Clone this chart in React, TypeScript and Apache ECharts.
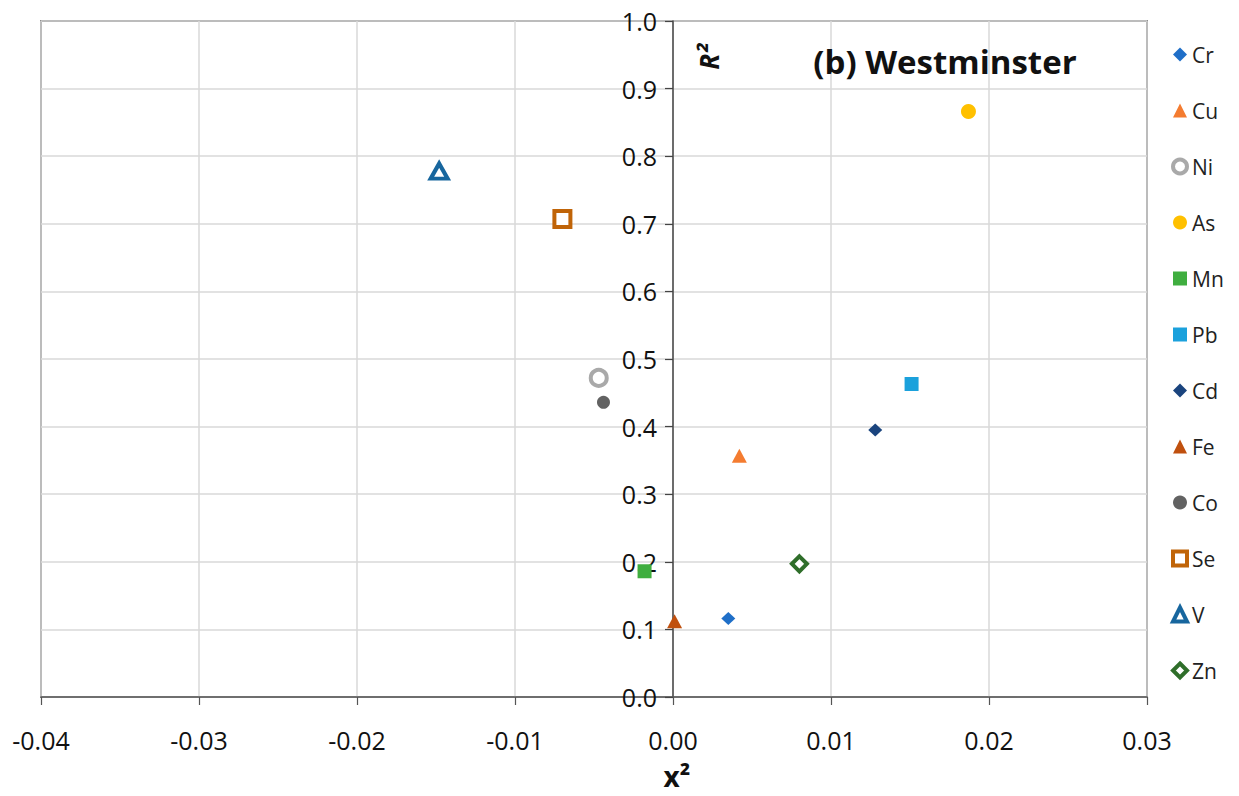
import React, { useEffect, useRef } from "react";
import * as echarts from "echarts";

const elements = ["Cr", "Cu", "Ni", "As", "Mn", "Pb", "Cd", "Fe", "Co", "Se", "V", "Zn"];
const xValues = [0.0035, 0.0042, -0.0047, 0.0187, -0.0018, 0.0151, 0.0128, 0.0001, -0.0044, -0.007, -0.0148, 0.008];
const yValues = [0.116, 0.357, 0.472, 0.866, 0.186, 0.463, 0.395, 0.112, 0.436, 0.707, 0.778, 0.197];
const colors = ["#1f6fc8", "#f47c30", "#a9a9a9", "#ffc000", "#3fae3f", "#1ba1dc", "#1a447e", "#c0500e", "#626262", "#c06408", "#17669e", "#2f6e2a"];
const symbols = ["diamond", "triangle", "circle", "circle", "rect", "rect", "diamond", "triangle", "circle", "rect", "triangle", "diamond"];
const hollow = [false, false, true, false, false, false, false, false, false, true, true, true];
const sizes: any[] = [[14, 13], [15, 14], 16, 15, 14, 14, [14, 13], [15, 14], 13, 16, [17, 15], [15, 15]];
const xTicks = { min: -0.04, max: 0.03, interval: 0.01 };
const yTicks = { min: 0, max: 1, interval: 0.1 };

const FONT = "'Open Sans', sans-serif";
const GRID = { left: 41, top: 21, right: 92, bottom: 99 };
const WIDTH = 1239;

export default function App() {
  const ref = useRef<HTMLDivElement>(null);
  useEffect(() => {
    if (!ref.current) return;
    const chart = echarts.init(ref.current, null, { renderer: "svg" });
    const styleOf = (i: number) =>
      hollow[i]
        ? { color: "#ffffff", borderColor: colors[i], borderWidth: 4, opacity: 1 }
        : { color: colors[i], borderWidth: 0, opacity: 1 };
    const series = elements.map((name, i) => ({
      name,
      type: "scatter",
      data: [[xValues[i], yValues[i]]],
      symbol: symbols[i],
      symbolSize: sizes[i],
      itemStyle: styleOf(i),
      z: 5,
    }));
    const gridWidth = WIDTH - GRID.left - GRID.right;
    const zeroOffset = (gridWidth * (0 - xTicks.min)) / (xTicks.max - xTicks.min);
    chart.setOption({
      animation: false,
      backgroundColor: "#ffffff",
      textStyle: { fontFamily: FONT },
      grid: {
        ...GRID,
        show: true,
        borderColor: "#3a3a3a",
        borderWidth: 1.5,
        containLabel: false,
      },
      legend: {
        orient: "vertical",
        left: 1166,
        top: 38,
        itemWidth: 14,
        itemHeight: 14,
        itemGap: 33,
        textStyle: { fontSize: 21, color: "#222", fontFamily: FONT, lineHeight: 23 },
        data: elements.map((name, i) => ({
          name,
          icon: symbols[i],
          itemStyle: hollow[i]
            ? { color: "#ffffff", borderColor: colors[i], borderWidth: 4 }
            : { color: colors[i], borderWidth: 0 },
        })),
      },
      xAxis: {
        type: "value",
        min: xTicks.min,
        max: xTicks.max,
        interval: xTicks.interval,
        axisLine: { onZero: false, lineStyle: { color: "#555", width: 1.5 } },
        axisTick: { show: true, length: 8, lineStyle: { color: "#555", width: 1.2 } },
        axisLabel: {
          fontSize: 25,
          color: "#111",
          margin: 30,
          fontFamily: FONT,
          formatter: (v: number) => (Math.abs(v) < 1e-9 ? "0.00" : v.toFixed(2)),
        },
        splitLine: { show: true, lineStyle: { color: "#d9d9d9", width: 1.5 } },
      },
      yAxis: {
        type: "value",
        position: "left",
        offset: -zeroOffset,
        min: yTicks.min,
        max: yTicks.max,
        interval: yTicks.interval,
        axisLine: { onZero: false, lineStyle: { color: "#444", width: 1.5 } },
        axisTick: { show: true, inside: false, length: 8, lineStyle: { color: "#444", width: 1.2 } },
        axisLabel: {
          fontSize: 25,
          color: "#111",
          margin: 16,
          fontFamily: FONT,
          formatter: (v: number) => v.toFixed(1),
        },
        splitLine: { show: true, lineStyle: { color: "#d9d9d9", width: 1.5 } },
      },
      graphic: [
        {
          type: "text",
          x: 945,
          y: 61,
          style: {
            text: "(b) Westminster",
            font: `bold 33px ${FONT}`,
            fill: "#111",
            align: "center",
            verticalAlign: "middle",
          },
          z: 10,
        },
        {
          type: "text",
          x: 709,
          y: 57,
          rotation: Math.PI / 2,
          style: {
            text: "R²",
            font: `italic bold 26px ${FONT}`,
            fill: "#111",
            align: "center",
            verticalAlign: "middle",
          },
          z: 10,
        },
        {
          type: "text",
          x: 677,
          y: 776,
          style: {
            text: "x²",
            font: `bold 28px ${FONT}`,
            fill: "#111",
            align: "center",
            verticalAlign: "middle",
          },
          z: 10,
        },
      ],
      series,
    });
    return () => chart.dispose();
  }, []);
  return (
    <div
      ref={ref}
      style={{ position: "fixed", left: 0, top: 0, width: 1239, height: 796, background: "#fff" }}
    />
  );
}
